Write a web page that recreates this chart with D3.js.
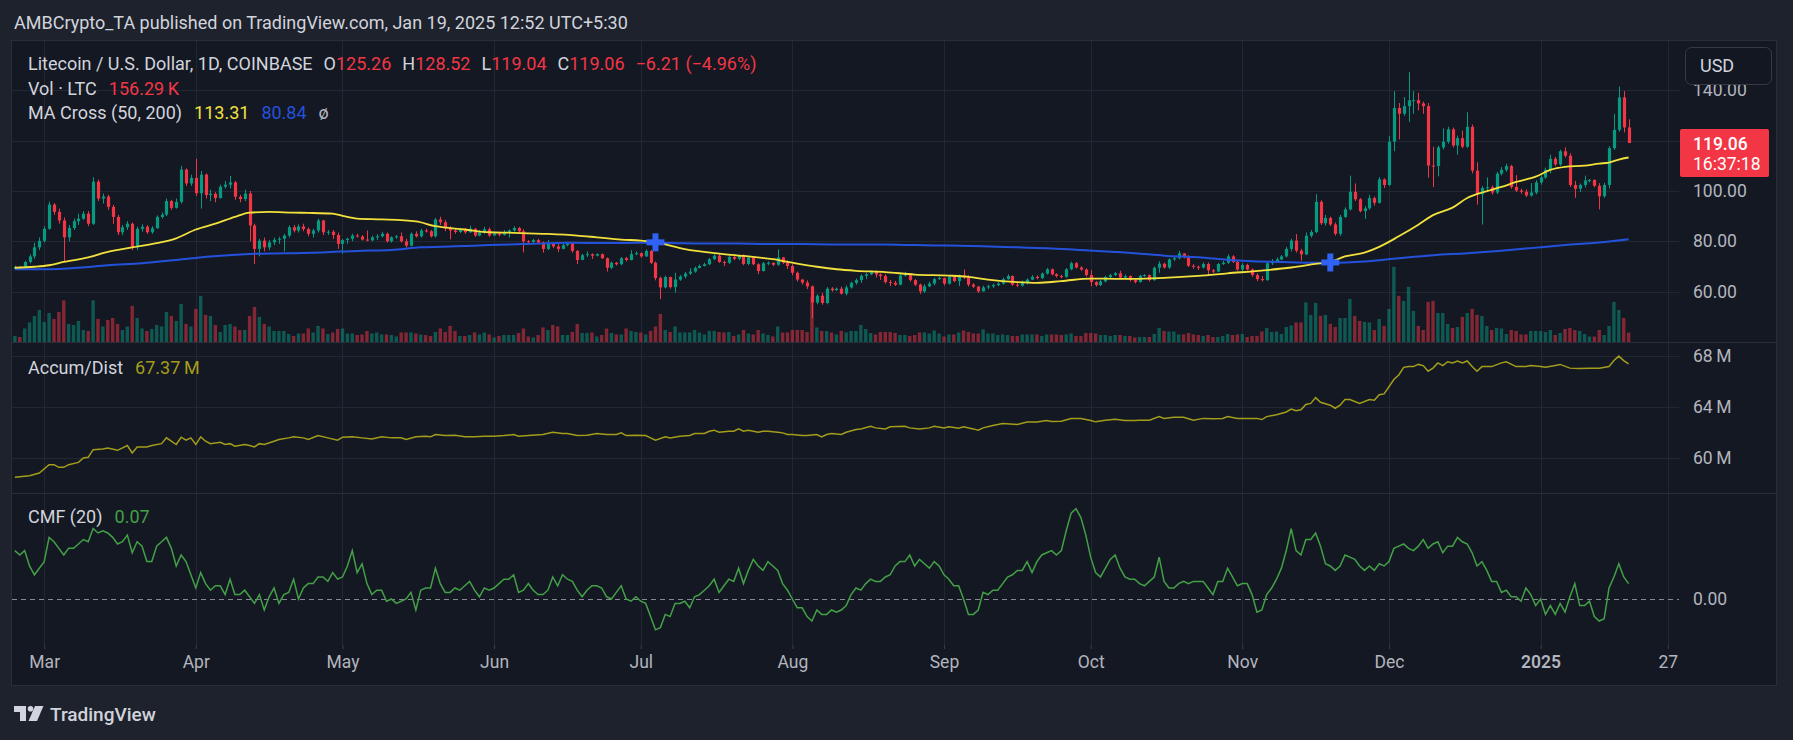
<!DOCTYPE html>
<html>
<head>
<meta charset="utf-8">
<script src="https://cdn.jsdelivr.net/npm/d3@7"></script>
<style>
  body { margin: 0; background: #1e222d; }
  svg { display: block; font-family: Roboto, "Noto Sans", sans-serif; }
</style>
</head>
<body>
<div id="chart"></div>
<script>
// LTC/USD daily candles, Coinbase, Feb 24 2024 -> Jan 19 2025 (one value per day)
const firstDay = "2024-02-24";
const firstOpen = 69.0;

const closes = [
69.8,69.6,71.8,74.0,77.6,80.2,85.0,94.6,91.7,88.3,
81.6,85.3,88.0,89.0,91.0,87.0,103.7,97.0,97.8,93.7,
89.7,83.6,85.6,87.0,77.6,85.0,85.8,83.6,85.2,89.7,
90.6,96.0,93.3,95.7,108.5,103.0,105.2,99.1,106.5,98.4,
98.9,97.2,101.7,102.5,103.4,97.7,96.8,99.0,86.3,77.0,
80.3,77.6,79.6,80.6,81.0,82.3,85.6,84.3,85.9,84.9,
83.0,84.3,88.3,83.6,83.8,82.5,79.0,80.5,81.0,82.3,
81.9,80.7,80.4,81.6,82.0,83.0,80.0,81.6,82.0,80.0,
78.3,83.0,82.0,84.3,84.0,82.0,88.7,87.6,85.2,84.3,
83.7,84.6,83.6,85.0,82.3,83.5,84.8,82.3,83.0,82.6,
83.6,84.3,85.3,84.0,80.0,79.7,80.5,79.5,77.0,79.0,
78.0,77.0,78.5,79.2,76.2,72.6,74.5,74.9,74.3,74.9,
73.3,69.5,71.5,70.9,73.3,72.6,74.9,75.3,74.0,76.2,
71.5,65.4,61.7,65.8,61.8,64.8,66.0,67.2,68.0,69.4,
70.2,70.9,72.9,74.3,71.8,71.5,73.8,73.0,74.3,71.0,
73.6,70.9,68.2,71.3,71.5,70.7,73.6,71.5,70.2,67.5,
64.8,63.6,62.1,55.7,58.4,55.5,61.2,60.6,61.2,59.2,
61.7,63.5,64.6,66.3,66.9,67.8,66.8,66.2,63.8,63.5,
62.8,66.4,66.9,64.6,62.8,60.1,62.1,63.2,65.0,65.4,
63.2,65.9,64.2,66.2,65.6,62.8,62.0,60.1,61.7,62.1,
62.6,63.2,65.0,66.2,62.8,62.4,63.8,64.8,65.9,65.4,
67.2,68.9,66.9,66.2,65.9,68.9,71.3,69.6,68.8,66.6,
63.8,62.6,64.1,65.8,66.6,67.3,65.6,66.2,64.6,63.8,
66.3,66.6,64.6,69.5,71.1,69.6,72.8,73.3,75.2,73.7,
70.3,69.9,69.6,71.0,68.5,68.0,71.0,71.5,74.0,71.8,
68.8,70.6,68.8,66.6,65.0,64.6,71.3,72.1,72.8,74.0,
77.0,80.3,76.3,74.8,82.2,83.7,95.7,87.2,89.3,86.7,
83.0,89.7,92.7,99.7,96.7,92.0,93.1,97.2,95.3,104.6,
102.4,119.6,133.0,130.7,133.7,136.0,136.1,134.8,133.7,110.1,
109.9,117.3,119.6,124.5,118.1,121.0,117.6,125.5,108.1,98.7,
101.2,101.5,99.4,106.9,108.4,109.9,101.6,100.2,99.7,98.2,
99.4,103.4,105.4,108.4,112.8,110.6,115.8,114.0,102.4,100.9,
102.4,104.2,104.4,102.1,97.9,102.4,117.0,124.3,137.2,125.26,119.06
];

const highs = [
70.3,70.2,72.3,74.8,79.5,81.5,86.0,95.8,95.2,93.0,
89.5,86.5,89.0,91.0,92.0,92.0,105.5,104.5,99.0,98.5,
94.5,90.5,86.5,88.0,87.5,85.8,86.8,86.5,86.0,90.3,
91.5,97.0,96.5,97.0,110.0,109.0,106.5,112.8,108.0,107.0,
100.5,99.5,102.5,104.0,106.0,104.0,98.5,100.5,100.0,87.0,
81.0,81.5,80.5,81.5,81.8,83.0,86.3,86.5,86.8,87.0,
85.5,85.0,89.0,88.5,84.5,84.5,83.5,81.0,81.5,83.0,
83.0,82.5,84.3,82.3,82.8,83.8,83.5,82.0,82.5,83.5,
81.0,83.5,84.0,85.0,85.0,84.5,89.3,89.8,88.5,86.0,
85.3,85.3,85.3,86.2,85.3,84.5,85.8,85.5,83.5,83.5,
84.5,84.8,86.0,85.8,84.8,80.5,81.0,81.0,80.0,80.5,
79.5,79.0,79.0,79.8,79.5,76.5,75.0,76.0,75.2,75.3,
75.2,73.6,72.0,71.8,73.8,73.8,76.5,76.0,75.6,76.8,
76.5,72.0,66.0,66.3,66.0,67.5,66.6,67.8,69.3,70.0,
70.8,71.5,73.4,74.9,75.2,72.3,74.6,74.5,74.8,74.8,
74.2,74.0,71.3,71.8,72.0,71.6,76.8,73.8,72.5,70.9,
68.0,65.0,64.5,62.5,59.0,59.5,61.8,61.8,61.6,62.0,
62.5,64.0,65.2,66.9,67.5,68.3,68.5,67.2,67.0,64.6,
64.3,67.0,67.9,67.3,65.0,63.2,63.0,64.0,65.5,66.0,
65.6,66.5,66.3,66.8,68.8,66.6,63.4,62.3,62.4,62.8,
63.2,63.8,65.6,66.9,66.5,63.5,64.4,65.3,66.6,66.5,
67.6,69.4,69.2,67.3,66.7,69.4,71.9,71.8,70.1,69.2,
68.6,64.2,64.6,66.3,67.1,67.8,68.3,66.8,66.5,65.0,
66.7,67.0,66.8,70.0,72.1,71.5,73.2,73.8,76.2,75.3,
74.5,70.9,70.4,71.6,71.6,69.0,71.4,72.2,74.8,74.5,
72.3,71.3,71.1,69.2,67.3,66.2,72.2,73.0,73.6,74.6,
77.8,81.0,82.9,77.0,83.5,84.5,98.7,96.3,90.5,89.8,
87.5,90.5,93.5,106.1,103.0,97.2,94.0,98.5,97.8,105.5,
105.0,121.8,139.7,135.0,137.3,147.2,139.7,139.0,135.5,135.0,
117.6,118.0,124.9,125.5,125.2,122.0,124.0,131.3,126.4,111.4,
102.0,105.4,102.2,107.6,109.5,110.8,110.4,106.3,100.9,100.6,
103.1,104.3,106.2,109.3,114.4,113.5,116.4,117.3,115.0,104.0,
103.0,106.1,104.8,104.6,103.1,103.3,117.8,130.7,141.5,139.7,128.52
];

const lows = [
68.8,69.2,69.4,71.2,73.0,76.5,79.5,84.6,90.5,87.0,
72.0,80.0,84.5,86.5,88.5,86.0,86.5,96.0,95.0,92.5,
87.0,82.5,82.5,84.5,76.5,76.5,83.8,83.0,83.0,85.0,
89.0,90.0,92.5,93.0,95.0,102.0,102.0,98.0,93.0,97.0,
96.0,95.5,97.0,101.0,101.0,96.5,95.5,96.0,80.0,71.0,
74.0,76.0,76.5,78.5,79.0,76.0,81.5,83.5,83.5,84.0,
82.0,81.5,83.5,82.5,82.5,81.0,77.0,75.0,79.0,80.0,
81.5,80.3,80.0,80.0,80.5,81.5,79.5,79.5,81.0,79.5,
77.5,78.0,81.5,81.5,83.5,81.5,81.5,86.5,84.0,80.8,
83.0,83.3,83.0,83.4,81.8,82.0,83.0,81.8,82.3,82.0,
82.3,81.5,83.8,83.5,75.6,79.0,79.3,79.0,75.5,76.5,
77.3,75.8,76.8,78.0,75.5,71.0,72.5,73.8,73.0,74.0,
73.0,68.0,69.0,70.4,70.5,72.0,72.4,74.5,73.5,73.8,
71.0,64.5,57.0,61.3,61.2,59.6,64.3,65.3,66.6,67.5,
69.2,70.0,70.5,72.5,71.4,70.2,71.0,72.5,72.5,70.5,
70.5,70.5,67.0,68.0,70.5,70.1,70.3,71.0,69.0,66.5,
64.0,62.8,61.0,49.5,55.0,54.8,55.0,60.0,60.3,58.8,
58.5,61.2,62.8,63.5,65.0,66.5,65.6,64.7,63.2,62.2,
62.3,62.5,66.0,64.0,62.2,59.1,59.5,61.8,62.5,64.7,
62.5,62.8,63.8,62.2,65.0,62.0,61.5,59.5,60.5,61.0,
61.5,62.2,62.8,64.7,62.3,61.8,62.0,62.8,64.6,64.9,
65.0,66.8,66.5,65.6,65.3,65.5,68.5,69.2,68.3,66.0,
62.1,62.0,62.2,63.6,65.3,66.2,65.0,65.1,64.0,63.3,
63.6,65.9,64.0,64.3,67.5,69.2,69.1,72.2,72.8,73.2,
69.8,69.1,68.6,69.2,66.6,67.4,67.8,70.6,71.0,71.4,
68.3,68.1,68.4,65.9,64.2,64.0,64.3,70.6,71.5,72.5,
73.6,76.0,75.5,72.3,74.5,81.5,83.2,86.5,86.2,86.1,
82.3,82.2,89.3,92.2,96.0,91.5,88.9,92.6,94.2,95.0,
101.2,102.0,115.8,120.5,129.9,127.5,130.7,132.0,130.7,105.3,
101.6,105.8,116.5,118.8,117.3,114.4,117.0,117.0,107.0,94.6,
86.7,100.0,98.6,98.8,106.2,107.6,100.9,99.6,98.9,97.6,
97.8,98.7,102.5,104.8,107.0,109.9,110.0,113.3,101.6,97.3,
99.6,101.4,103.4,101.5,92.7,97.3,101.0,116.3,123.5,123.3,119.04
];

// volume in thousands of LTC
const volumes = [
100,83,224,325,432,531,332,481,382,498,
690,299,282,349,199,183,690,382,257,365,
398,299,199,257,598,398,224,183,216,282,
257,498,432,349,631,299,257,548,764,448,
432,282,166,282,299,257,199,199,432,581,
415,299,257,183,183,183,133,100,141,141,
224,158,266,224,133,158,216,224,141,141,
116,125,183,141,158,125,125,116,91,158,
158,158,141,125,116,100,166,224,166,266,
183,100,100,116,158,125,158,125,75,100,
116,116,116,149,224,91,75,116,241,199,
282,257,116,116,166,299,149,149,158,91,
116,224,149,125,125,224,183,166,158,125,
183,257,465,199,166,257,158,158,158,199,
158,125,183,183,166,158,166,100,125,199,
141,125,199,141,116,91,257,158,158,199,
199,199,166,747,241,183,183,158,125,183,
158,183,183,282,216,149,125,166,166,166,
149,116,116,100,116,158,158,141,191,141,
91,125,125,158,191,166,141,141,208,141,
141,116,125,116,100,100,125,125,125,125,
100,125,125,125,116,125,141,100,100,149,
149,141,116,116,100,116,116,100,100,75,
83,83,83,133,232,183,174,174,125,125,
149,125,116,100,116,83,83,100,133,116,
125,133,83,100,100,174,232,166,174,133,
249,274,324,324,656,448,647,432,448,299,
249,398,398,714,432,349,332,324,199,382,
266,548,1245,764,681,913,515,266,199,664,
681,481,481,299,232,249,415,481,548,448,
432,266,199,232,224,133,199,183,125,125,
183,183,183,166,199,116,149,216,232,199,
183,133,91,91,199,116,266,664,531,398,156.29
];

// moving averages: [day index, price]
const ma50 = [
[0,69.5],[4,69.9],[7,70.5],[10,71.8],[15,73.6],[19,75.8],[24,77.6],[29,79.3],[33,81.2],[37,84.7],
[41,87.0],[45,89.7],[48,91.4],[52,91.7],[57,91.4],[60,91.3],[65,91.0],[67,90.1],[70,89.0],[75,88.7],
[82,87.9],[86,86.0],[92,84.7],[97,83.6],[102,83.4],[108,83.0],[115,82.3],[119,81.6],[124,80.7],[128,80.3],
[131,79.6],[137,76.9],[143,75.3],[149,74.2],[155,72.9],[159,71.5],[164,69.9],[168,68.9],[172,68.3],[178,67.8],
[184,66.8],[191,66.4],[195,65.9],[199,64.8],[205,63.8],[209,63.5],[214,64.2],[220,65.2],[225,65.1],[229,65.1],
[235,65.5],[242,66.3],[248,67.3],[255,68.4],[261,69.6],[266,71.0],[269,71.8],[272,74.0],[276,75.5],[279,77.8],
[283,82.0],[287,86.6],[290,90.4],[294,93.4],[297,97.2],[300,99.4],[304,101.6],[307,103.6],[311,105.7],[314,108.4],
[317,109.6],[321,110.1],[324,110.9],[326,111.3],[328,112.5],[330,113.31]
];
const ma200 = [
[0,68.9],[6,68.9],[13,69.5],[19,70.5],[26,71.3],[33,72.6],[40,74.0],[47,74.9],[53,75.2],[57,75.3],
[63,75.6],[70,76.2],[77,76.6],[83,77.6],[90,78.0],[97,78.5],[104,78.9],[114,79.4],[120,79.3],[128,79.4],
[134,79.3],[141,79.1],[148,79.1],[154,78.9],[161,78.9],[172,78.7],[178,78.7],[184,78.5],[191,78.3],[198,78.0],
[205,77.6],[212,77.2],[218,76.6],[225,75.8],[229,75.3],[235,74.3],[242,73.7],[248,72.7],[252,72.2],[259,71.8],
[265,71.5],[269,71.5],[276,72.0],[283,73.3],[290,74.5],[297,75.3],[304,76.3],[310,77.3],[317,78.5],[324,79.5],
[330,80.84]
];
// MA cross markers: [day index, price]
const crosses = [[131, 79.6], [269, 71.6]];

// Accumulation/Distribution, millions: [day index, value]
const accDist = [
[0,58.52],[3,58.65],[5,58.86],[7,59.51],[8,59.51],[9,59.30],[10,59.30],[11,59.51],[13,59.69],[14,60.03],
[15,60.08],[16,60.68],[18,60.74],[19,60.81],[21,60.63],[23,61.00],[24,60.42],[25,60.89],[27,60.89],[28,61.00],
[30,61.15],[31,61.60],[33,61.08],[34,61.65],[35,61.42],[36,61.60],[37,61.08],[38,61.68],[39,61.34],[40,61.15],
[42,61.26],[43,61.08],[44,61.15],[45,60.95],[47,61.08],[48,61.00],[49,60.89],[50,61.15],[51,61.08],[53,61.34],
[54,61.47],[56,61.60],[57,61.68],[59,61.60],[60,61.47],[62,61.78],[64,61.60],[66,61.42],[67,61.65],[69,61.68],
[71,61.60],[73,61.52],[75,61.68],[77,61.60],[79,61.60],[80,61.47],[82,61.68],[84,61.73],[85,61.68],[86,61.86],
[88,61.78],[90,61.81],[92,61.68],[94,61.68],[96,61.73],[98,61.73],[100,61.78],[102,61.86],[103,61.73],[105,61.78],
[108,61.86],[110,62.04],[112,61.94],[113,61.94],[115,61.78],[117,61.81],[119,61.94],[121,61.86],[123,61.86],[124,61.99],
[125,61.78],[127,61.81],[129,61.78],[130,61.60],[131,61.42],[133,61.68],[134,61.60],[136,61.73],[138,61.78],[139,61.94],
[141,61.94],[142,62.12],[143,62.20],[144,62.04],[146,62.12],[147,62.12],[148,62.30],[149,62.12],[150,62.20],[152,62.04],
[153,62.12],[154,62.12],[156,62.04],[157,61.99],[158,61.86],[159,61.86],[161,61.78],[162,61.78],[164,61.86],[165,61.68],
[166,61.86],[167,61.94],[169,61.86],[170,62.04],[172,62.25],[173,62.30],[175,62.51],[176,62.38],[178,62.30],[179,62.46],
[182,62.51],[183,62.38],[185,62.30],[187,62.38],[188,62.51],[190,62.38],[191,62.46],[193,62.36],[194,62.46],[196,62.30],
[197,62.20],[198,62.38],[200,62.56],[202,62.72],[205,62.64],[207,62.83],[209,62.83],[211,62.96],[212,62.88],[214,62.90],
[216,63.11],[218,63.11],[220,62.96],[221,62.85],[223,62.98],[225,63.06],[227,62.96],[229,62.96],[230,62.97],[232,62.97],
[234,63.26],[235,63.12],[237,63.20],[239,63.20],[241,62.97],[243,63.12],[245,63.09],[247,63.12],[248,63.26],[250,63.12],
[252,63.12],[254,63.12],[255,63.03],[256,63.26],[258,63.41],[260,63.62],[261,63.85],[262,63.71],[263,63.79],[264,64.21],
[265,64.29],[266,64.74],[267,64.38],[269,64.15],[270,63.91],[271,64.15],[272,64.59],[273,64.59],[275,64.29],[277,64.59],
[278,64.53],[279,64.97],[280,65.03],[282,66.15],[283,66.51],[284,67.10],[285,67.16],[286,67.16],[287,67.33],[288,67.24],
[289,66.80],[290,67.04],[291,67.45],[292,67.24],[293,67.54],[294,67.45],[295,67.60],[296,67.45],[297,67.60],[298,67.16],
[299,66.80],[300,67.16],[302,67.16],[304,67.45],[305,67.54],[307,67.16],[309,67.16],[310,67.24],[312,67.16],[313,67.10],
[315,67.24],[316,67.33],[318,67.04],[320,67.01],[322,67.04],[324,67.04],[326,67.16],[327,67.63],[328,67.98],[329,67.63],
[330,67.37]
];

// Chaikin Money Flow (20), one value per day
const cmf = [
0.22,0.20,0.22,0.15,0.11,0.14,0.17,0.28,0.26,0.23,
0.20,0.23,0.23,0.25,0.27,0.26,0.32,0.30,0.31,0.30,
0.28,0.25,0.26,0.29,0.21,0.26,0.24,0.17,0.17,0.24,
0.26,0.28,0.23,0.15,0.20,0.17,0.11,0.05,0.12,0.07,
0.04,0.06,0.06,0.02,0.09,0.02,0.02,0.04,0.01,-0.02,
0.02,-0.05,0.01,0.05,-0.02,0.02,0.03,0.09,0.00,0.05,
0.07,0.07,0.10,0.10,0.08,0.12,0.09,0.10,0.15,0.22,
0.12,0.16,0.07,0.02,0.04,0.04,-0.01,0.00,-0.02,-0.01,
0.00,0.03,-0.05,0.04,0.05,0.05,0.14,0.07,0.03,0.03,
0.05,0.04,0.06,0.08,0.04,0.01,0.05,0.04,0.05,0.07,
0.09,0.09,0.11,0.03,0.04,0.07,0.04,0.02,0.02,0.04,
0.10,0.06,0.11,0.09,0.08,0.04,0.01,0.04,0.06,0.06,
0.05,0.01,0.00,0.03,0.06,0.00,-0.01,0.01,-0.01,-0.02,
-0.08,-0.14,-0.13,-0.07,-0.08,-0.02,-0.02,-0.01,-0.04,0.01,
0.02,0.04,0.06,0.09,0.03,0.06,0.09,0.08,0.14,0.07,
0.13,0.18,0.15,0.13,0.17,0.15,0.13,0.07,0.04,0.00,
-0.04,-0.04,-0.08,-0.10,-0.05,-0.07,-0.07,-0.05,-0.06,-0.05,
-0.03,0.02,0.05,0.04,0.07,0.09,0.08,0.08,0.10,0.11,
0.15,0.17,0.17,0.20,0.15,0.18,0.16,0.14,0.17,0.15,
0.11,0.09,0.06,0.06,0.00,-0.07,-0.07,-0.05,0.03,0.02,
0.04,0.04,0.07,0.10,0.11,0.13,0.13,0.17,0.12,0.17,
0.20,0.21,0.22,0.20,0.22,0.31,0.39,0.41,0.37,0.29,
0.19,0.12,0.10,0.14,0.18,0.20,0.14,0.10,0.09,0.09,
0.07,0.06,0.08,0.10,0.19,0.08,0.05,0.05,0.07,0.08,
0.07,0.08,0.08,0.08,0.05,0.02,0.08,0.08,0.14,0.10,
0.06,0.07,0.07,0.02,-0.06,-0.05,0.02,0.05,0.09,0.14,
0.22,0.32,0.22,0.20,0.27,0.27,0.30,0.24,0.16,0.15,
0.13,0.15,0.20,0.19,0.18,0.15,0.13,0.15,0.13,0.16,
0.15,0.17,0.23,0.24,0.25,0.23,0.22,0.24,0.27,0.23,
0.25,0.26,0.21,0.24,0.24,0.28,0.26,0.25,0.21,0.15,
0.17,0.13,0.08,0.08,0.03,0.04,0.01,0.01,-0.01,0.05,
0.02,-0.03,0.00,-0.07,-0.03,-0.07,-0.02,-0.06,0.01,0.07,
-0.03,-0.03,-0.01,-0.08,-0.10,-0.09,0.05,0.10,0.16,0.10,0.07
];

const priceTicks = [60, 80, 100, 120, 140];
const adTicks = [60, 64, 68];
const cmfTicks = [0];
const timeTicks = ["2024-03-01","2024-04-01","2024-05-01","2024-06-01","2024-07-01","2024-08-01",
  "2024-09-01","2024-10-01","2024-11-01","2024-12-01","2025-01-01","2025-01-27"];
const timeLabels = ["Mar","Apr","May","Jun","Jul","Aug","Sep","Oct","Nov","Dec","2025","27"];

// colours
const upCol = "#089981", downCol = "#f23645";
const textCol = "#d1d4dc", axisCol = "#b2b5be", gridCol = "#232733";

const width = 1793, height = 740;
const svg = d3.select("#chart").append("svg")
    .attr("width", width)
    .attr("height", height);

const dayMs = 864e5;
const t0 = new Date(firstDay + "T00:00:00Z");
const dayDate = i => new Date(+t0 + i * dayMs);
const dates = closes.map((d, i) => dayDate(i));

// scales
const x = d3.scaleUtc().domain([dates[0], dates[dates.length - 1]]).range([14.86, 1628.6]);
const y = d3.scaleLinear().domain([40, 160]).range([342, 40]);
const yVol = d3.scaleLinear().domain([0, 5000]).range([342, 40]);
const yAD = d3.scaleLinear().domain([57.3, 69.0]).range([493, 343]);
const yCMF = d3.scaleLinear().domain([-0.209, 0.477]).range([645, 494]);

// backgrounds
svg.append("rect").attr("width", width).attr("height", height).attr("fill", "#1e222d");
svg.append("rect")
    .attr("x", 11.5).attr("y", 40.5).attr("width", 1765).attr("height", 645)
    .attr("fill", "#141823").attr("stroke", "#2a2e39");

// grid
const grid = svg.append("g").attr("stroke", gridCol).attr("stroke-width", 1);
timeTicks.forEach(t => {
    const gx = Math.round(x(new Date(t + "T00:00:00Z"))) + 0.5;
    grid.append("line").attr("x1", gx).attr("x2", gx).attr("y1", 41).attr("y2", 645);
});
priceTicks.forEach(p => {
    const gy = Math.round(y(p)) + 0.5;
    grid.append("line").attr("x1", 12).attr("x2", 1679).attr("y1", gy).attr("y2", gy);
});
adTicks.forEach(p => {
    const gy = Math.round(yAD(p)) + 0.5;
    grid.append("line").attr("x1", 12).attr("x2", 1679).attr("y1", gy).attr("y2", gy);
});

// pane separators
[342.5, 493.5].forEach(sy => {
    svg.append("line").attr("x1", 12).attr("x2", 1777).attr("y1", sy).attr("y2", sy)
        .attr("stroke", "#2a2e39");
});

svg.append("clipPath").attr("id", "plotClip")
    .append("rect").attr("x", 12).attr("y", 41).attr("width", 1667).attr("height", 604);
const plot = svg.append("g").attr("clip-path", "url(#plotClip)");

// candle data
const candles = closes.map((c, i) => {
    const o = i === 0 ? firstOpen : closes[i - 1];
    return {
        date: dates[i], o: o, c: c,
        h: Math.max(highs[i], o, c), l: Math.min(lows[i], o, c),
        v: volumes[i], up: c >= o
    };
});

// volume bars
plot.append("g").selectAll("rect")
    .data(candles)
    .join("rect")
    .attr("x", d => x(d.date) - 1.7)
    .attr("width", 3.4)
    .attr("y", d => yVol(d.v))
    .attr("height", d => yVol(0) - yVol(d.v))
    .attr("fill", d => d.up ? "rgba(8,153,129,0.5)" : "rgba(242,54,69,0.5)");

// wicks
plot.append("g").selectAll("line")
    .data(candles)
    .join("line")
    .attr("x1", d => Math.round(x(d.date)) + 0.5)
    .attr("x2", d => Math.round(x(d.date)) + 0.5)
    .attr("y1", d => y(d.h))
    .attr("y2", d => y(d.l))
    .attr("stroke", d => d.up ? upCol : downCol)
    .attr("stroke-width", 1);

// bodies
plot.append("g").selectAll("rect")
    .data(candles)
    .join("rect")
    .attr("x", d => Math.round(x(d.date)) + 0.5 - 1.6)
    .attr("width", 3.2)
    .attr("y", d => y(Math.max(d.o, d.c)))
    .attr("height", d => Math.max(1, Math.abs(y(d.o) - y(d.c))))
    .attr("fill", d => d.up ? upCol : downCol);

// moving averages
const maLine = d3.line()
    .x(d => x(dayDate(d[0])))
    .y(d => y(d[1]))
    .curve(d3.curveMonotoneX);
plot.append("path").attr("d", maLine(ma200))
    .attr("fill", "none").attr("stroke", "#2451dc").attr("stroke-width", 2);
plot.append("path").attr("d", maLine(ma50))
    .attr("fill", "none").attr("stroke", "#f2e13c").attr("stroke-width", 1.8);

// cross markers
crosses.forEach(([d, p]) => {
    const cx = x(dayDate(d)), cy = y(p);
    const g = plot.append("g").attr("fill", "#2f62f5");
    g.append("rect").attr("x", cx - 9).attr("y", cy - 3).attr("width", 18).attr("height", 6);
    g.append("rect").attr("x", cx - 3).attr("y", cy - 9).attr("width", 6).attr("height", 18);
});

// accumulation / distribution
plot.append("path")
    .attr("d", d3.line().x(d => x(dayDate(d[0]))).y(d => yAD(d[1]))(accDist))
    .attr("fill", "none").attr("stroke", "#a39d1b").attr("stroke-width", 1.5);

// CMF zero line + line
plot.append("line")
    .attr("x1", 12).attr("x2", 1679)
    .attr("y1", Math.round(yCMF(0)) + 0.5).attr("y2", Math.round(yCMF(0)) + 0.5)
    .attr("stroke", "#868993").attr("stroke-dasharray", "5,4");
plot.append("path")
    .attr("d", d3.line().x((d, i) => x(dates[i])).y(d => yCMF(d))(cmf))
    .attr("fill", "none").attr("stroke", "#43a047").attr("stroke-width", 1.5);

// price axis
const priceAxis = svg.append("g")
    .attr("transform", "translate(1693,0)")
    .call(d3.axisRight(y).tickValues(priceTicks).tickFormat(d3.format(".2f")).tickSize(0).tickPadding(0));
const adAxis = svg.append("g")
    .attr("transform", "translate(1693,0)")
    .call(d3.axisRight(yAD).tickValues(adTicks).tickFormat(d => d + "\u2009M").tickSize(0).tickPadding(0));
const cmfAxis = svg.append("g")
    .attr("transform", "translate(1693,0)")
    .call(d3.axisRight(yCMF).tickValues(cmfTicks).tickFormat(d3.format(".2f")).tickSize(0).tickPadding(0));
[priceAxis, adAxis, cmfAxis].forEach(a => {
    a.select(".domain").remove();
    a.selectAll("text").attr("fill", axisCol).attr("font-size", 17.5)
        .attr("font-family", "Roboto, 'Noto Sans', sans-serif");
});

// time axis
const timeAxis = svg.append("g")
    .attr("transform", "translate(0,645)")
    .call(d3.axisBottom(x)
        .tickValues(timeTicks.map(t => new Date(t + "T00:00:00Z")))
        .tickFormat((d, i) => timeLabels[i])
        .tickSize(4).tickPadding(7));
timeAxis.select(".domain").remove();
timeAxis.selectAll("line").attr("stroke", "#3a3e4a");
timeAxis.selectAll("text").attr("fill", axisCol).attr("font-size", 17.5)
    .attr("font-family", "Roboto, 'Noto Sans', sans-serif")
    .attr("font-weight", (d, i) => timeLabels[i] === "2025" ? 600 : 400);

// USD button (over the 140 label)
svg.append("rect")
    .attr("x", 1685.5).attr("y", 47.5).attr("width", 86).attr("height", 37).attr("rx", 6)
    .attr("fill", "#131722").attr("stroke", "#363a45");
svg.append("text").attr("x", 1700).attr("y", 72).attr("font-size", 18).attr("fill", textCol).text("USD");

// last price label
const last = candles[candles.length - 1];
svg.append("rect")
    .attr("x", 1680).attr("y", y(last.c) - 14).attr("width", 89).attr("height", 48).attr("rx", 2)
    .attr("fill", downCol);
svg.append("text").attr("x", 1693).attr("y", y(last.c) + 6.5)
    .attr("font-size", 17.5).attr("font-weight", 500).attr("fill", "#ffffff").text(d3.format(".2f")(last.c));
svg.append("text").attr("x", 1693).attr("y", y(last.c) + 26.5)
    .attr("font-size", 17.5).attr("fill", "#ffffff").text("16:37:18");

// header
svg.append("text").attr("x", 14).attr("y", 29).attr("font-size", 18).attr("fill", textCol)
    .text("AMBCrypto_TA published on TradingView.com, Jan 19, 2025 12:52 UTC+5:30");

// legends
function legend(yPos, parts) {
    const t = svg.append("text").attr("x", 28).attr("y", yPos).attr("font-size", 18);
    parts.forEach(([txt, col, gap]) => {
        t.append("tspan").attr("dx", gap || 0).attr("fill", col).text(txt);
    });
}
legend(70, [
    ["Litecoin / U.S. Dollar, 1D, COINBASE", textCol],
    ["O", textCol, 11], ["125.26", downCol],
    ["H", textCol, 11], ["128.52", downCol],
    ["L", textCol, 11], ["119.04", downCol],
    ["C", textCol, 11], ["119.06", downCol],
    ["\u22126.21 (\u22124.96%)", downCol, 11]
]);
legend(95, [["Vol \u00b7 LTC", textCol], ["156.29\u2009K", downCol, 12]]);
legend(119, [["MA Cross (50, 200)", textCol], ["113.31", "#f2e13c", 12], ["80.84", "#2451dc", 12], ["\u00f8", axisCol, 12]]);
legend(374, [["Accum/Dist", textCol], ["67.37\u2009M", "#a39d1b", 12]]);
legend(523, [["CMF (20)", textCol], ["0.07", "#43a047", 12]]);

// TradingView logo
const logo = svg.append("g").attr("fill", textCol);
logo.append("path").attr("d", "M14,706 H26 V721 H20 V712 H14 Z");
logo.append("circle").attr("cx", 30.5).attr("cy", 708.8).attr("r", 2.8);
logo.append("path").attr("d", "M35,706 H43.5 L37,721 H28.5 Z");
svg.append("text").attr("x", 50).attr("y", 721).attr("font-size", 19).attr("font-weight", 500)
    .attr("fill", textCol).text("TradingView");
</script>
</body>
</html>
